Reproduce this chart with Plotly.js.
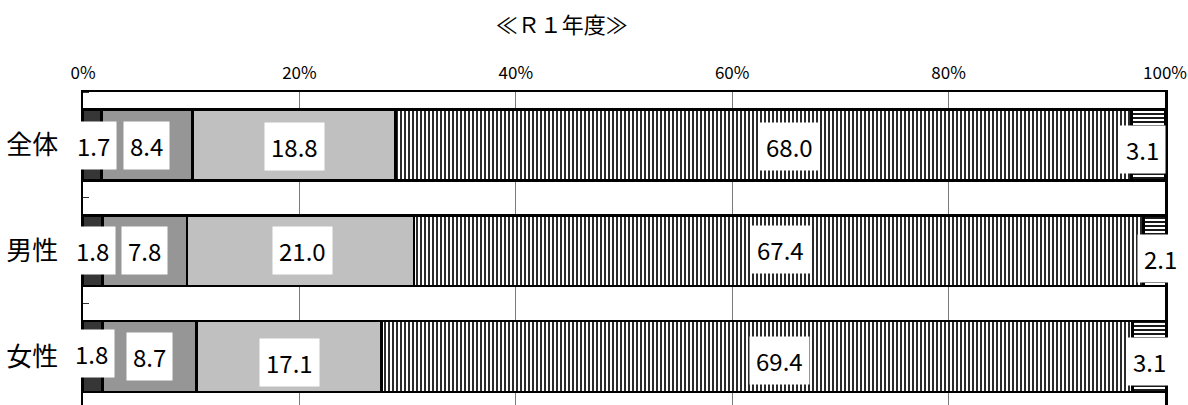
<!DOCTYPE html>
<html>
<head>
<meta charset="utf-8">
<script src="https://cdn.plot.ly/plotly-3.0.1.min.js"></script>
<style>
  html, body { margin: 0; padding: 0; background: #ffffff; }
  #chart { width: 1188px; height: 405px; }
</style>
</head>
<body>
<div id="chart"></div>
<script>
// ---- data ----
const categories = ['全体', '男性', '女性'];
const seg1 = [1.7, 1.8, 1.8];
const seg2 = [8.4, 7.8, 8.7];
const seg3 = [18.8, 21.0, 17.1];
const seg4 = [68.0, 67.4, 69.4];
const seg5 = [3.1, 2.1, 3.1];
const xTickValues = [0, 20, 40, 60, 80, 100];
const xTickLabels = ['0%', '20%', '40%', '60%', '80%', '100%'];
const chartTitle = '≪Ｒ１年度≫';

// ---- styles ----
const series = [seg1, seg2, seg3, seg4, seg5];
const seriesNames = ['項目1', '項目2', '項目3', '項目4', '項目5'];
const fills = [
  { color: '#363636' },
  { color: '#969696' },
  { color: '#c0c0c0' },
  { color: '#ffffff', pattern: { shape: '|', fgcolor: '#2b2b2b', bgcolor: '#ffffff', size: 4, solidity: 0.5, fillmode: 'replace' } },
  { color: '#ffffff', pattern: { shape: '-', fgcolor: '#1a1a1a', bgcolor: '#ffffff', size: 4, solidity: 0.5, fillmode: 'replace' } }
];
// label nudges in pixels [category][segment]
const labelDX = [[1, 0, 1, 26, -6], [0, 0, 2, 2, 6], [-1, 0, 0, 22, 0]];
const labelDY = [[-1, -1, -2, -2, -5], [0, 0, 0, 1, -8], [3, 0, -6, -4, -5]];

const yPos = categories.map((c, i) => i);
const labelFont = 'Noto Sans CJK JP, sans-serif';

const traces = series.map((vals, s) => ({
  type: 'bar',
  orientation: 'h',
  name: seriesNames[s],
  x: vals,
  y: yPos,
  width: 0.668,
  marker: Object.assign({}, fills[s], { line: { color: '#000000', width: 2.5 } }),
  hoverinfo: 'skip',
  showlegend: false
}));

const annotations = [];
categories.forEach((cat, ci) => {
  let cum = 0;
  series.forEach((vals, s) => {
    const v = vals[ci];
    annotations.push({
      x: cum + v / 2,
      y: yPos[ci],
      xref: 'x', yref: 'y',
      text: v.toFixed(1),
      showarrow: false,
      bgcolor: '#ffffff',
      borderpad: 6,
      xshift: labelDX[ci][s],
      yshift: labelDY[ci][s],
      font: { family: labelFont, size: 24, color: '#000000' }
    });
    cum += v;
  });
});

const layout = {
  width: 1188,
  height: 405,
  margin: { l: 83, r: 23, t: 92, b: 0, pad: 0 },
  paper_bgcolor: '#ffffff',
  plot_bgcolor: '#ffffff',
  barmode: 'stack',
  title: {
    text: chartTitle,
    xref: 'container', yref: 'container',
    x: 561.7 / 1188, y: 1 - 25 / 405,
    xanchor: 'center', yanchor: 'middle',
    font: { family: 'Noto Sans CJK JP, sans-serif', size: 22, color: '#000000' }
  },
  xaxis: {
    side: 'top',
    range: [0, 100],
    tickmode: 'array',
    tickvals: xTickValues,
    ticktext: xTickLabels,
    ticks: '',
    ticklabeloverflow: 'allow',
    ticklabelstandoff: 4,
    showgrid: true,
    gridcolor: '#7a7a7a',
    gridwidth: 1,
    zeroline: false,
    showline: true,
    linecolor: '#000000',
    linewidth: 2.5,
    mirror: false,
    tickfont: { family: labelFont, size: 17, color: '#000000' },
    fixedrange: true
  },
  yaxis: {
    range: [2.458, -0.5],
    tickmode: 'array',
    tickvals: yPos,
    ticktext: categories,
    ticks: '',
    ticklabelstandoff: 17,
    showgrid: false,
    zeroline: false,
    showline: true,
    linecolor: '#000000',
    linewidth: 2.5,
    mirror: true,
    minor: { tickmode: 'linear', tick0: 0.5, dtick: 1, ticks: 'inside', ticklen: 6, tickwidth: 1, tickcolor: '#333333', showgrid: false },
    tickfont: { family: 'Noto Sans CJK JP, sans-serif', size: 26, color: '#000000' },
    fixedrange: true
  },
  annotations: annotations,
  showlegend: false
};

Plotly.newPlot('chart', traces, layout, { displayModeBar: false, staticPlot: true });
</script>
</body>
</html>
